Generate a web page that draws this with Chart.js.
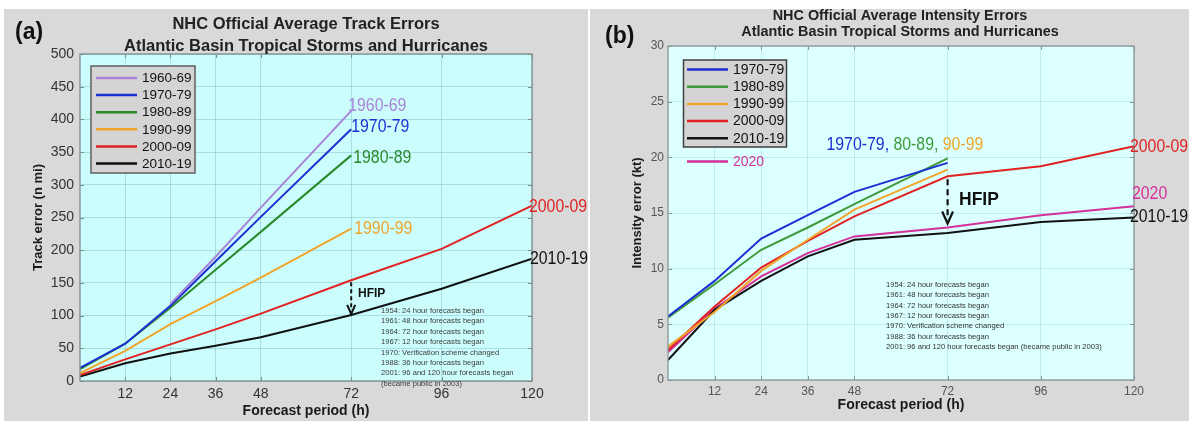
<!DOCTYPE html>
<html>
<head>
<meta charset="utf-8">
<script src="https://cdn.jsdelivr.net/npm/chart.js@4.4.1/dist/chart.umd.min.js"></script>
<style>
  html, body { margin: 0; padding: 0; background: #ffffff; }
  body { width: 1189px; height: 421px; position: relative; overflow: hidden; }
  .panel { position: absolute; top: 9px; height: 412px; }
  #panelA { left: 4px; width: 584px; }
  #panelB { left: 590px; width: 599px; }
</style>
</head>
<body>
<div class="panel" id="panelA"><canvas id="trackChart" width="584" height="412"></canvas></div>
<div class="panel" id="panelB"><canvas id="intensityChart" width="599" height="412"></canvas></div>
<script>
// Forecast lead times (h) and the labelled x ticks
const leadTimes = [0, 12, 24, 36, 48, 72, 96, 120];
const xTickHours = [12, 24, 36, 48, 72, 96, 120];

// Average track errors (n mi), one value per lead time
const track1960s = [null, null, 118, 190, 265, 413];
const track1970s = [20, 57, 115, 183, 251, 385];
const track1980s = [18, 57, 112, 170, 228, 345];
const track1990s = [12, 46, 87, 122, 158, 233];
const track2000s = [9, 33, 56, 79, 103, 154, 202, 268];
const track2010s = [7, 27, 42, 54, 67, 101, 141, 187];

// Average intensity errors (kt), one value per lead time
const inten1970s = [5.7, 8.9, 12.7, 14.8, 16.9, 19.5];
const inten1980s = [5.6, 8.6, 11.7, 13.7, 15.8, 19.9];
const inten1990s = [3.0, 6.1, 9.8, 12.6, 15.3, 18.9];
const inten2000s = [2.7, 6.6, 10.1, 12.5, 14.7, 18.3, 19.2, 21.0];
const inten2010s = [1.8, 6.3, 8.9, 11.1, 12.6, 13.2, 14.2, 14.6];
const inten2020 = [2.5, 6.4, 9.3, 11.4, 12.9, 13.7, 14.8, 15.6];

// Milestones printed inside each panel
const milestones = [
  '1954: 24 hour forecasts began',
  '1961: 48 hour forecasts began',
  '1964: 72 hour forecasts began',
  '1967: 12 hour forecasts began',
  '1970: Verification scheme changed',
  '1988: 36 hour forecasts began',
  '2001: 96 and 120 hour forecasts began'
];
const publicNote = '(became public in 2003)';

const FONT = "'Liberation Sans', Arial, Helvetica, sans-serif";
const C = {
  c60: '#a883d6', c70: '#1c2fd2', c80: '#2a8a2a', c80b: '#3f9a3a',
  c90: '#f0a52a', c00: '#e02222', c10: '#111111', c20: '#d3309b'
};

function toPoints(values) {
  const pts = [];
  values.forEach((v, i) => { if (v !== null && v !== undefined) pts.push({ x: leadTimes[i], y: v }); });
  return pts;
}
function series(label, values, color) {
  return { label, data: toPoints(values), borderColor: color, backgroundColor: color,
           borderWidth: 2, pointRadius: 0, tension: 0, fill: false };
}

// Condensed text (horizontally squeezed), used for the in-plot series labels
function condensedText(ctx, text, x, y, color, size, sx) {
  ctx.save();
  ctx.font = size + 'px ' + FONT;
  ctx.fillStyle = color;
  ctx.textBaseline = 'middle';
  ctx.textAlign = 'left';
  ctx.translate(x, y);
  ctx.scale(sx, 1);
  ctx.fillText(text, 0, 0);
  const w = ctx.measureText(text).width * sx;
  ctx.restore();
  return w;
}

const panelDecor = {
  id: 'panelDecor',
  beforeDraw(chart, args, o) {
    const { ctx, chartArea: a } = chart;
    ctx.save();
    ctx.fillStyle = o.panelColor;
    ctx.fillRect(0, 0, chart.width, chart.height);
    ctx.fillStyle = o.plotColor;
    ctx.fillRect(a.left, a.top, a.right - a.left, a.bottom - a.top);
    ctx.restore();
  },
  afterDraw(chart, args, o) {
    const { ctx, chartArea: a, scales: { x, y } } = chart;
    ctx.save();

    // axes box with inward tick marks on all four sides
    ctx.strokeStyle = o.axisColor;
    ctx.lineWidth = 1.3;
    ctx.strokeRect(a.left, a.top, a.right - a.left, a.bottom - a.top);
    ctx.lineWidth = 1;
    const tl = 4;
    ctx.beginPath();
    x.ticks.forEach(t => {
      const px = Math.round(x.getPixelForValue(t.value)) + 0.5;
      ctx.moveTo(px, a.bottom); ctx.lineTo(px, a.bottom - tl);
      ctx.moveTo(px, a.top); ctx.lineTo(px, a.top + tl);
    });
    y.ticks.forEach(t => {
      const py = Math.round(y.getPixelForValue(t.value)) + 0.5;
      ctx.moveTo(a.left, py); ctx.lineTo(a.left + tl, py);
      ctx.moveTo(a.right, py); ctx.lineTo(a.right - tl, py);
    });
    ctx.stroke();

    // everything below is laid out in page coordinates
    ctx.translate(-o.ox, -o.oy);

    // panel letter
    ctx.fillStyle = '#111';
    ctx.textBaseline = 'middle';
    ctx.textAlign = 'left';
    ctx.font = 'bold ' + o.letter.size + 'px ' + FONT;
    ctx.fillText(o.letter.text, o.letter.x, o.letter.y);

    // two-line title
    ctx.textAlign = 'center';
    ctx.fillStyle = '#222';
    ctx.font = 'bold ' + o.title.size + 'px ' + FONT;
    o.title.lines.forEach((t, i) => ctx.fillText(t, o.title.x, o.title.ys[i]));

    // legend
    const L = o.legend;
    ctx.fillStyle = L.fill;
    ctx.fillRect(L.x, L.y, L.w, L.h);
    ctx.strokeStyle = L.border;
    ctx.lineWidth = 1.5;
    ctx.strokeRect(L.x, L.y, L.w, L.h);
    ctx.font = L.size + 'px ' + FONT;
    ctx.textAlign = 'left';
    chart.data.datasets.forEach((ds, i) => {
      const yy = L.firstY + i * L.rowH + (i >= L.boxed ? L.extraGap : 0);
      ctx.strokeStyle = ds.borderColor;
      ctx.lineWidth = 2.5;
      ctx.beginPath();
      ctx.moveTo(L.lineX0, yy); ctx.lineTo(L.lineX1, yy);
      ctx.stroke();
      ctx.fillStyle = i >= L.boxed ? ds.borderColor : '#111';
      ctx.fillText(ds.label, L.textX, yy + 0.5);
    });

    // series labels next to the line ends
    o.seriesLabels.forEach(lb => {
      let px = lb.x, py = lb.y;
      if (lb.ds !== undefined) {
        const pts = chart.data.datasets[lb.ds].data;
        const last = pts[pts.length - 1];
        px = x.getPixelForValue(last.x) + o.ox + lb.dx;
        py = y.getPixelForValue(last.y) + o.oy + lb.dy;
      }
      lb.parts.forEach(p => {
        px += condensedText(ctx, p.text, px, py, p.color, o.labelSize, o.labelScale);
      });
    });

    // HFIP arrow at 72 h
    const H = o.hfip;
    const hx = x.getPixelForValue(H.hour) + o.ox;
    const fromPts = chart.data.datasets[H.fromDs].data.find(p => p.x === H.hour);
    const toPts = chart.data.datasets[H.toDs].data.find(p => p.x === H.hour);
    const y0 = y.getPixelForValue(fromPts.y) + o.oy + H.startGap;
    const y1 = y.getPixelForValue(toPts.y) + o.oy - H.endGap;
    ctx.strokeStyle = '#111';
    ctx.lineWidth = H.width;
    ctx.setLineDash(H.dash);
    ctx.beginPath();
    ctx.moveTo(hx, y0); ctx.lineTo(hx, y1 - H.head * 0.6);
    ctx.stroke();
    ctx.setLineDash([]);
    ctx.beginPath();
    ctx.moveTo(hx - H.head * 0.45, y1 - H.head);
    ctx.lineTo(hx, y1);
    ctx.lineTo(hx + H.head * 0.45, y1 - H.head);
    ctx.stroke();
    ctx.fillStyle = '#111';
    ctx.font = 'bold ' + H.size + 'px ' + FONT;
    ctx.textAlign = 'left';
    ctx.textBaseline = 'middle';
    ctx.fillText('HFIP', H.textX, H.textY);

    // milestone notes
    const N = o.notes;
    ctx.fillStyle = N.color;
    ctx.font = N.size + 'px ' + FONT;
    N.lines.forEach((t, i) => ctx.fillText(t, N.x, N.y0 + i * N.dy));

    ctx.restore();
  }
};

function baseScales(cfg) {
  return {
    x: {
      type: 'linear', min: 0, max: 120,
      afterBuildTicks: s => { s.ticks = xTickHours.map(v => ({ value: v })); },
      afterFit: s => { s.height = cfg.xHeight; },
      grid: { color: cfg.gridColor, lineWidth: 1, drawTicks: false },
      border: { display: false },
      ticks: { autoSkip: false, maxRotation: 0, padding: cfg.xTickPad,
               font: { family: FONT, size: cfg.tickSize }, color: cfg.tickColor },
      title: { display: true, text: 'Forecast period (h)', color: '#1a1a1a',
               font: { family: FONT, size: 14, weight: 'bold' }, padding: { top: 0, bottom: cfg.xTitlePad } }
    },
    y: {
      type: 'linear', min: 0, max: cfg.yMax,
      afterFit: s => { s.width = cfg.yWidth; },
      grid: { color: cfg.gridColor, lineWidth: 1, drawTicks: false },
      border: { display: false },
      ticks: { stepSize: cfg.yStep, padding: cfg.yTickPad,
               font: { family: FONT, size: cfg.tickSize }, color: cfg.tickColor },
      title: { display: true, text: cfg.yTitle, color: '#1a1a1a',
               font: { family: FONT, size: 13, weight: 'bold' }, padding: { top: cfg.yTitlePad, bottom: 0 } }
    }
  };
}

// (a) track errors
new Chart(document.getElementById('trackChart'), {
  type: 'line',
  data: {
    datasets: [
      series('1960-69', track1960s, C.c60),
      series('1970-79', track1970s, C.c70),
      series('1980-89', track1980s, C.c80),
      series('1990-99', track1990s, C.c90),
      series('2000-09', track2000s, C.c00),
      series('2010-19', track2010s, C.c10)
    ]
  },
  plugins: [panelDecor],
  options: {
    responsive: false, animation: false, devicePixelRatio: 1,
    layout: { padding: { left: 0, top: 45, right: 56, bottom: 0 } },
    plugins: {
      legend: { display: false }, title: { display: false }, tooltip: { enabled: false },
      panelDecor: {
        ox: 4, oy: 9,
        panelColor: '#d9d9d9', plotColor: '#ccfdfd', axisColor: '#7f8c8c',
        letter: { text: '(a)', x: 15, y: 33, size: 23 },
        title: { lines: ['NHC Official Average Track Errors', 'Atlantic Basin Tropical Storms and Hurricanes'],
                 x: 306, ys: [24, 46], size: 16.5 },
        legend: { x: 91, y: 66, w: 104, h: 107, fill: '#d4d4d4', border: '#5f5f5f',
                  firstY: 78, rowH: 17.1, lineX0: 96, lineX1: 137, textX: 142, size: 13.5, boxed: 6, extraGap: 0 },
        labelSize: 18, labelScale: 0.88,
        seriesLabels: [
          { ds: 0, dx: -3, dy: -5, parts: [{ text: '1960-69', color: C.c60 }] },
          { ds: 1, dx: 0, dy: -2, parts: [{ text: '1970-79', color: C.c70 }] },
          { ds: 2, dx: 2, dy: 3, parts: [{ text: '1980-89', color: C.c80 }] },
          { ds: 3, dx: 3, dy: 0, parts: [{ text: '1990-99', color: C.c90 }] },
          { ds: 4, dx: -3, dy: 1, parts: [{ text: '2000-09', color: C.c00 }] },
          { ds: 5, dx: -2, dy: 0, parts: [{ text: '2010-19', color: C.c10 }] }
        ],
        hfip: { hour: 72, fromDs: 4, toDs: 5, startGap: 2, endGap: 1, width: 2, dash: [4, 3], head: 9,
                textX: 358, textY: 294, size: 12 },
        notes: { x: 381, y0: 311, dy: 10.4, size: 7.6, color: '#3a3a3a',
                 lines: milestones.concat([publicNote]) }
      }
    },
    scales: baseScales({ xHeight: 40, yWidth: 76, yMax: 500, yStep: 50, tickSize: 14, tickColor: '#333',
                         gridColor: 'rgba(80,160,170,0.30)', xTickPad: 5, yTickPad: 6, xTitlePad: 1,
                         yTitlePad: 27, yTitle: 'Track error (n mi)' })
  }
});

// (b) intensity errors
new Chart(document.getElementById('intensityChart'), {
  type: 'line',
  data: {
    datasets: [
      series('1970-79', inten1970s, C.c70),
      series('1980-89', inten1980s, C.c80b),
      series('1990-99', inten1990s, C.c90),
      series('2000-09', inten2000s, C.c00),
      series('2010-19', inten2010s, C.c10),
      series('2020', inten2020, C.c20)
    ]
  },
  plugins: [panelDecor],
  options: {
    responsive: false, animation: false, devicePixelRatio: 1,
    layout: { padding: { left: 0, top: 37, right: 55, bottom: 0 } },
    plugins: {
      legend: { display: false }, title: { display: false }, tooltip: { enabled: false },
      panelDecor: {
        ox: 590, oy: 9,
        panelColor: '#d9d9d9', plotColor: '#dcffff', axisColor: '#8a9696',
        letter: { text: '(b)', x: 605, y: 37, size: 23 },
        title: { lines: ['NHC Official Average Intensity Errors', 'Atlantic Basin Tropical Storms and Hurricanes'],
                 x: 900, ys: [16.5, 32], size: 14.4 },
        legend: { x: 683.5, y: 60, w: 103, h: 87, fill: '#d4d4d4', border: '#3f3f3f',
                  firstY: 69.5, rowH: 17.2, lineX0: 687, lineX1: 728, textX: 733, size: 14, boxed: 5, extraGap: 6 },
        labelSize: 18, labelScale: 0.88,
        seriesLabels: [
          { x: 826.5, y: 145, parts: [{ text: '1970-79,', color: C.c70 }, { text: ' 80-89,', color: C.c80b },
                                      { text: ' 90-99', color: C.c90 }] },
          { ds: 3, dx: -4, dy: 1, parts: [{ text: '2000-09', color: C.c00 }] },
          { ds: 5, dx: -2, dy: -12, parts: [{ text: '2020', color: C.c20 }] },
          { ds: 4, dx: -4, dy: 0, parts: [{ text: '2010-19', color: C.c10 }] }
        ],
        hfip: { hour: 72, fromDs: 3, toDs: 5, startGap: 3, endGap: 4, width: 2.2, dash: [6, 4], head: 12,
                textX: 959, textY: 200, size: 17.5 },
        notes: { x: 886, y0: 285, dy: 10.3, size: 7.6, color: '#333',
                 lines: milestones.slice(0, 6).concat([milestones[6] + ' ' + publicNote]) }
      }
    },
    scales: baseScales({ xHeight: 41, yWidth: 78, yMax: 30, yStep: 5, tickSize: 12, tickColor: '#555',
                         gridColor: 'rgba(80,160,170,0.20)', xTickPad: 4, yTickPad: 4, xTitlePad: 7.6,
                         yTitlePad: 40, yTitle: 'Intensity error (kt)' })
  }
});
</script>
</body>
</html>
